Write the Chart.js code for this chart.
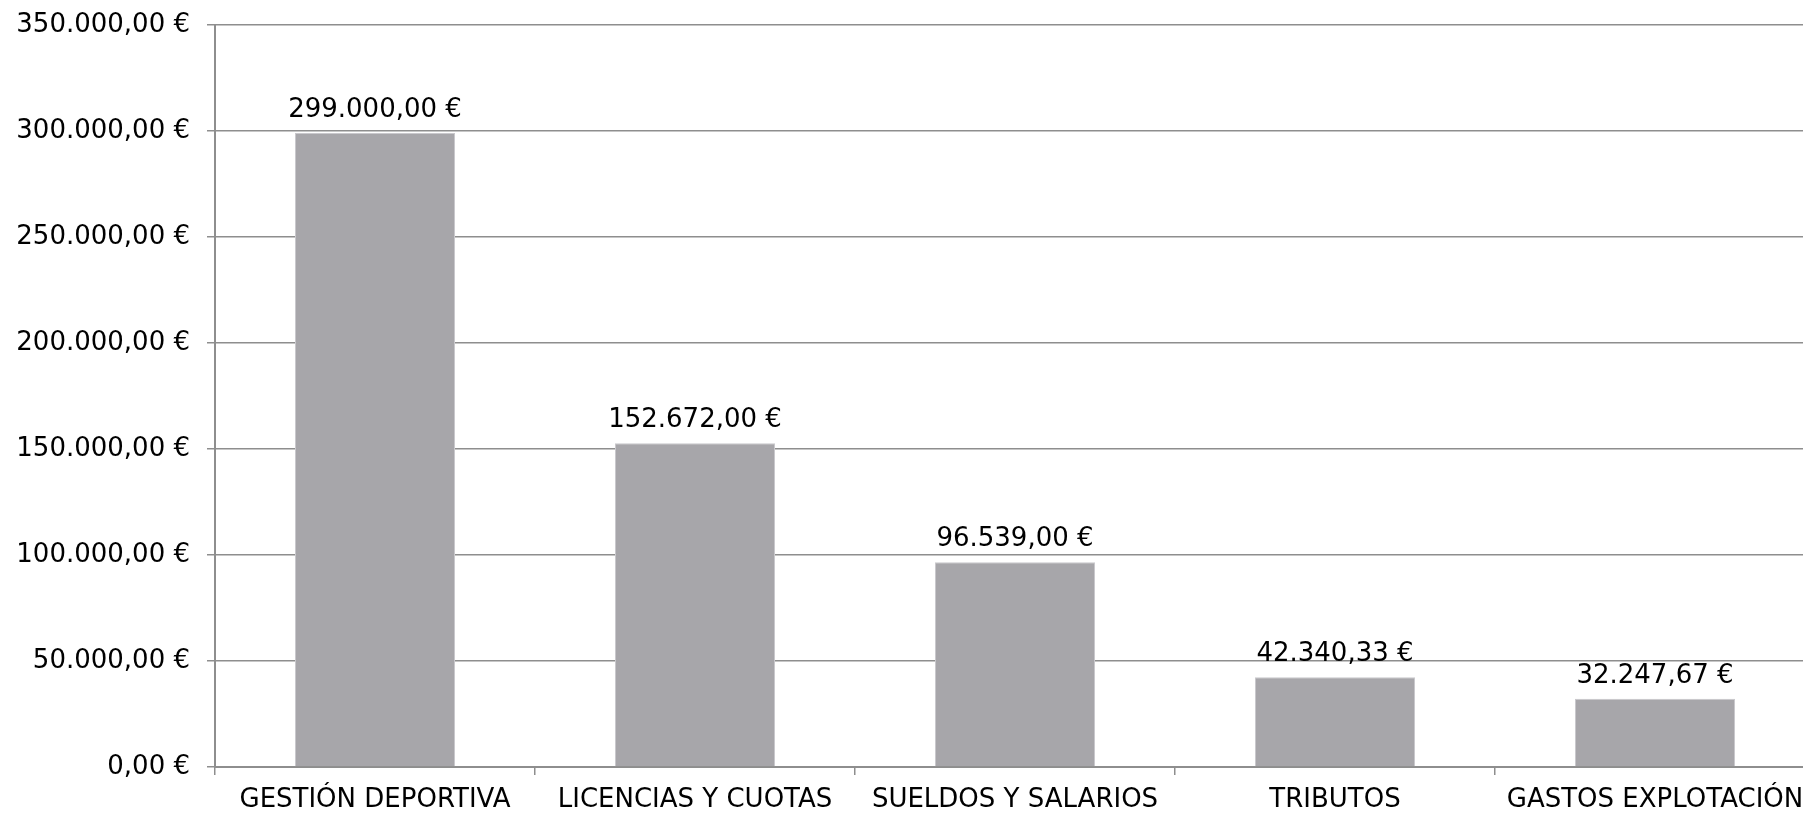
<!DOCTYPE html>
<html>
<head>
<meta charset="utf-8">
<script src="https://cdn.jsdelivr.net/npm/chart.js@4.4.0/dist/chart.umd.min.js"></script>
<style>
  html, body { margin: 0; padding: 0; background: #fff; overflow: hidden; }
  #wrap { width: 1820px; height: 813px; }
</style>
</head>
<body>
<div id="wrap"><canvas id="gastos" width="1820" height="813"></canvas></div>
<script>
// data
const categories = ['GESTIÓN DEPORTIVA', 'LICENCIAS Y CUOTAS', 'SUELDOS Y SALARIOS', 'TRIBUTOS', 'GASTOS EXPLOTACIÓN'];
const importes = [299000.00, 152672.00, 96539.00, 42340.33, 32247.67];
const yMin = 0, yMax = 350000, yStep = 50000;

// 350000 -> "350.000,00 €"
function euros(v) {
  const parts = Number(v).toFixed(2).split('.');
  const ent = parts[0].replace(/\B(?=(\d{3})+(?!\d))/g, '.');
  return ent + ',' + parts[1] + ' €';
}

const FONT = 'DejaVu Sans, Verdana, sans-serif';
const GRID = '#8e8e8e';

// value labels above the bars
const valueLabels = {
  id: 'valueLabels',
  afterDatasetsDraw(chart) {
    const ctx = chart.ctx;
    const meta = chart.getDatasetMeta(0);
    ctx.save();
    ctx.font = '26px ' + FONT;
    ctx.fillStyle = '#000';
    ctx.textAlign = 'center';
    ctx.textBaseline = 'alphabetic';
    meta.data.forEach((bar, i) => {
      ctx.fillText(euros(importes[i]), bar.x, bar.y - 16);
    });
    ctx.restore();
  }
};

new Chart(document.getElementById('gastos'), {
  type: 'bar',
  data: {
    labels: categories,
    datasets: [{
      data: importes,
      backgroundColor: '#a7a6aa',
      borderColor: '#c9c8cc',
      borderWidth: 1,
      categoryPercentage: 1.0,
      barPercentage: 0.5
    }]
  },
  options: {
    responsive: false,
    animation: false,
    layout: { padding: { top: 25, right: 5, left: 0, bottom: 0 } },
    plugins: { legend: { display: false }, tooltip: { enabled: false } },
    scales: {
      x: {
        offset: true,
        grid: { offset: true, drawOnChartArea: false, color: GRID, lineWidth: 1.5, tickLength: 8 },
        border: { display: true, color: GRID, width: 2 },
        ticks: { color: '#000', font: { family: FONT, size: 26 }, padding: 10, maxRotation: 0, autoSkip: false },
        afterFit(scale) { scale.height = 46; scale.paddingLeft = 0; scale.paddingRight = 0; }
      },
      y: {
        min: yMin,
        max: yMax,
        grid: { color: GRID, lineWidth: 1.5, tickLength: 8 },
        border: { display: true, color: GRID, width: 2 },
        ticks: {
          stepSize: yStep,
          color: '#000',
          font: { family: FONT, size: 26 },
          padding: 17,
          callback: (v) => euros(v)
        },
        afterFit(scale) { scale.width = 215; scale.paddingTop = 0; scale.paddingBottom = 0; }
      }
    }
  },
  plugins: [valueLabels]
});
</script>
</body>
</html>
